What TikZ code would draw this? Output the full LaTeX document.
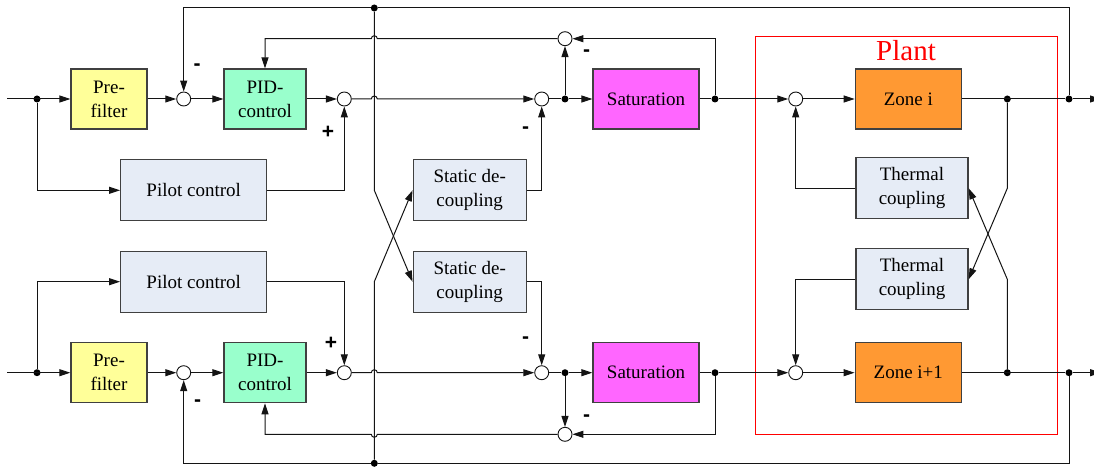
\documentclass[tikz,border=0pt]{standalone}
\usepackage{fontspec}
\setmainfont{Liberation Serif}
\newfontfamily\signfont{Liberation Sans}
\usetikzlibrary{arrows.meta, positioning, calc}
\definecolor{boxgray}{RGB}{64,64,64}
\definecolor{wiregray}{RGB}{20,20,20}
\definecolor{prefill}{RGB}{255,255,153}
\definecolor{pidfill}{RGB}{153,255,204}
\definecolor{pilotfill}{RGB}{230,236,246}
\definecolor{satfill}{RGB}{255,102,255}
\definecolor{zonefill}{RGB}{255,153,51}
\tikzset{
    blk/.style n args={3}{draw=boxgray, line width=1.3pt, fill=#1,
        minimum width=#2, minimum height=#3, inner sep=0pt, align=center,
        font=\fontsize{19}{24}\selectfont},
    sumc/.style={draw=wiregray, circle, fill=white, minimum size=14pt, inner sep=0pt, line width=0.9pt},
    dotc/.style={fill=black, circle, inner sep=0pt, minimum size=7pt},
    sig/.style={draw=wiregray, line width=1pt, -{Triangle[length=11pt,width=7pt]}},
    wire/.style={draw=wiregray, line width=1pt},
    sgn/.style={font=\signfont\bfseries\fontsize{21}{21}\selectfont, inner sep=0pt}
}
\begin{document}
\begin{tikzpicture}[x=1pt, y=-1pt]
    \useasboundingbox (0,0) rectangle (1094,468);
    % upper zone
    \coordinate (in1) at (7,99);
    \coordinate (out1) at (1101,99);
    \coordinate (k1) at (374.3,190.3);
    \coordinate (q1) at (1007.3,188.3);
    \node[blk={prefill}{76pt}{60pt}] (pf1) at (109,99) {Pre-\\filter};
    \node[sumc] (s11) at (183.7,99) {};
    \node[blk={pidfill}{82pt}{60pt}] (pid1) at (265,99) {PID-\\control};
    \node[sumc] (s12) at (344.3,99) {};
    \node[blk={pilotfill}{146pt}{61pt}] (pc1) at (193.7,190.3) {Pilot control};
    \node[blk={pilotfill}{113pt}{61pt}] (sd1) at (469.7,190.3) {Static de-\\coupling};
    \node[sumc] (s13) at (541.7,99) {};
    \node[sumc] (s14) at (565,38.7) {};
    \node[blk={satfill}{106pt}{60pt}] (sat1) at (646,99) {Saturation};
    \node[sumc] (s15) at (795.7,99) {};
    \node[blk={zonefill}{106pt}{60pt}] (zone1) at (908.3,99) {Zone i};
    \node[blk={pilotfill}{112pt}{61pt}] (tc1) at (912,188.3) {Thermal\\coupling};
    % lower zone
    \coordinate (in2) at (7,372.7);
    \coordinate (out2) at (1101,372.7);
    \coordinate (k2) at (374.3,281.7);
    \coordinate (q2) at (1007.3,279.3);
    \node[blk={prefill}{76pt}{60pt}] (pf2) at (109,372.7) {Pre-\\filter};
    \node[sumc] (s21) at (183.7,372.7) {};
    \node[blk={pidfill}{82pt}{60pt}] (pid2) at (265,372.7) {PID-\\control};
    \node[sumc] (s22) at (344.3,372.7) {};
    \node[blk={pilotfill}{146pt}{61pt}] (pc2) at (193.7,281.7) {Pilot control};
    \node[blk={pilotfill}{113pt}{61pt}] (sd2) at (469.7,281.7) {Static de-\\coupling};
    \node[sumc] (s23) at (541.7,372.7) {};
    \node[sumc] (s24) at (565,434.3) {};
    \node[blk={satfill}{106pt}{60pt}] (sat2) at (646,372.7) {Saturation};
    \node[sumc] (s25) at (795.7,372.7) {};
    \node[blk={zonefill}{106pt}{60pt}] (zone2) at (908.3,372.7) {Zone i+1};
    \node[blk={pilotfill}{112pt}{61pt}] (tc2) at (912,279.3) {Thermal\\coupling};
    % plant frame
    \draw[red, line width=0.9pt] (755,36) rectangle (1057.3,434.3);
    \node[text=red, font=\fontsize{29}{29}\selectfont, inner sep=0pt] (plantlbl) at (906,51) {Plant};
    % branch points
    \node[dotc] (d11) at (37,99) {};
    \node[dotc] (d12) at (565,99) {};
    \node[dotc] (d13) at (715,99) {};
    \node[dotc] (d14) at (1007.3,99) {};
    \node[dotc] (d15) at (1069,99) {};
    \node[dotc] (d16) at (374.3,8) {};
    \node[dotc] (d21) at (37,372.7) {};
    \node[dotc] (d22) at (565,372.7) {};
    \node[dotc] (d23) at (715,372.7) {};
    \node[dotc] (d24) at (1007.3,372.7) {};
    \node[dotc] (d25) at (1069,372.7) {};
    \node[dotc] (d26) at (374.3,463.3) {};
    % upper wires
    \draw[sig] (in1) -- (pf1);
    \draw[sig] (d11) |- (pc1);
    \draw[sig] (pf1) -- (s11);
    \draw[sig] (s11) -- (pid1);
    \draw[sig] (pid1) -- (s12);
    \draw[sig] (pc1) -| (s12);
    \draw[sig] (s12) -- (371.3,99) arc[start angle=180, end angle=360, radius=3] -- (s13);
    \draw[sig] (sd1) -| (s13);
    \draw[wire] (s13) -- (d12);
    \draw[sig] (d12) -- (sat1);
    \draw[sig] (d12) -- (s14);
    \draw[wire] (sat1) -- (d13);
    \draw[sig] (d13) |- (s14);
    \draw[sig] (s14) -- (377.3,38.7) arc[start angle=0, end angle=-180, radius=3] -| (pid1);
    \draw[sig] (d13) -- (s15);
    \draw[sig] (s15) -- (zone1);
    \draw[wire] (zone1) -- (d15);
    \draw[sig] (d15) -- (out1);
    \draw[sig] (d15) |- (d16) -| (s11);
    \draw[sig] (d16) -- (k1) -- (sd2.west);
    \draw[sig] (d14) -- (q1) -- (tc2.east);
    \draw[sig] (tc1) -| (s15);
    % lower wires
    \draw[sig] (in2) -- (pf2);
    \draw[sig] (d21) |- (pc2);
    \draw[sig] (pf2) -- (s21);
    \draw[sig] (s21) -- (pid2);
    \draw[sig] (pid2) -- (s22);
    \draw[sig] (pc2) -| (s22);
    \draw[sig] (s22) -- (371.3,372.7) arc[start angle=180, end angle=360, radius=3] -- (s23);
    \draw[sig] (sd2) -| (s23);
    \draw[wire] (s23) -- (d22);
    \draw[sig] (d22) -- (sat2);
    \draw[sig] (d22) -- (s24);
    \draw[wire] (sat2) -- (d23);
    \draw[sig] (d23) |- (s24);
    \draw[sig] (s24) -- (377.3,434.3) arc[start angle=0, end angle=180, radius=3] -| (pid2);
    \draw[sig] (d23) -- (s25);
    \draw[sig] (s25) -- (zone2);
    \draw[wire] (zone2) -- (d25);
    \draw[sig] (d25) -- (out2);
    \draw[sig] (d25) |- (d26) -| (s21);
    \draw[sig] (d26) -- (k2) -- (sd1.west);
    \draw[sig] (d24) -- (q2) -- (tc1.east);
    \draw[sig] (tc2) -| (s25);
    % signs
    \node[sgn] (m11) at (197,67) {-};
    \node[sgn] (p12) at (328,132) {+};
    \node[sgn] (m13) at (525.7,130) {-};
    \node[sgn] (m14) at (586.7,53) {-};
    \node[sgn] (m21) at (197.7,403.3) {-};
    \node[sgn] (p22) at (331,343.3) {+};
    \node[sgn] (m23) at (525.7,340) {-};
    \node[sgn] (m24) at (586.7,418.3) {-};
\end{tikzpicture}
\end{document}
